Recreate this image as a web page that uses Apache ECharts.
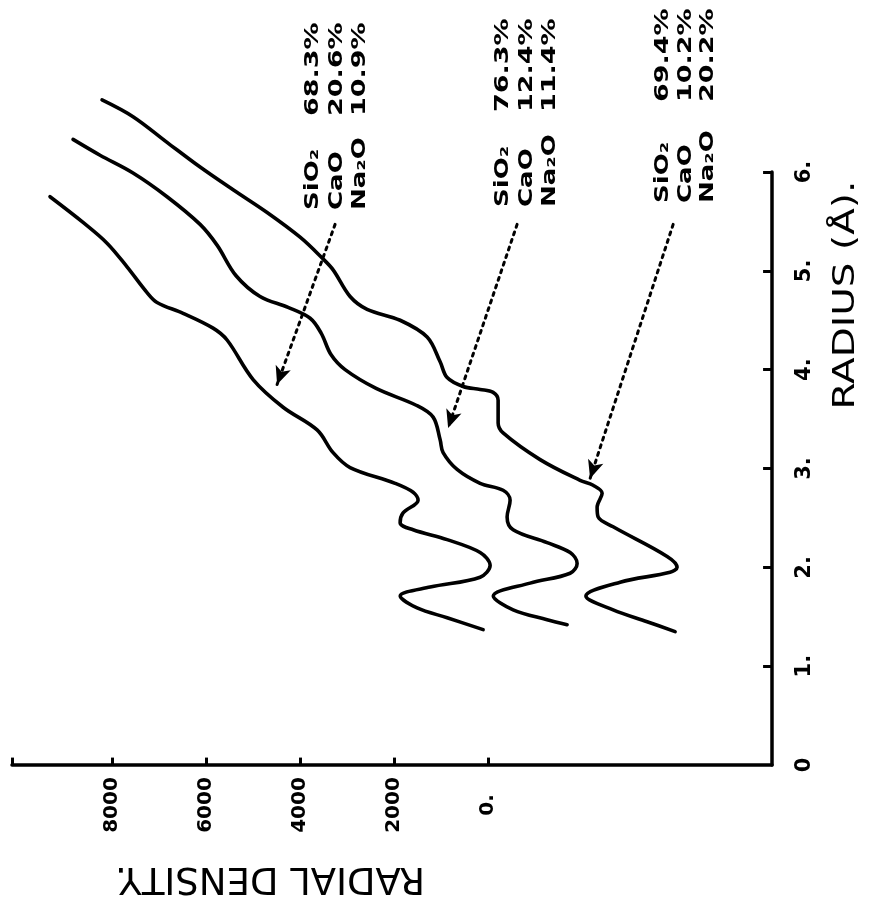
<!DOCTYPE html>
<html>
<head>
<meta charset="utf-8">
<script src="https://cdn.jsdelivr.net/npm/echarts@6/dist/echarts.min.js"></script>
<style>
html,body{margin:0;padding:0;background:#ffffff;}
#chart{width:875px;height:905px;}
</style>
</head>
<body>
<div id="chart"></div>
<script>
// ---- Data (radius in Å, radial density) ----
// Curve 1: SiO2 68.3%, CaO 20.6%, Na2O 10.9%
const radius1  = [1.37,1.49,1.59,1.71,1.80,1.90,2.02,2.15,2.28,2.38,2.45,2.55,2.68,2.76,2.85,3.01,3.16,3.39,3.62,3.90,4.30,4.42,4.57,4.68,4.78,5.04,5.28,5.49,5.75];
const density1 = [106,872,1511,1870,1234,170,-43,170,872,1596,1872,1809,1490,1596,1979,2937,3298,3639,4362,5000,5554,5852,6490,7044,7257,7682,8108,8618,9321];
// Curve 2: SiO2 76.3%, CaO 12.4%, Na2O 11.4%
const radius2  = [1.42,1.47,1.57,1.71,1.84,1.94,2.04,2.15,2.25,2.38,2.51,2.68,2.78,2.85,2.99,3.16,3.29,3.52,3.64,3.81,4.00,4.15,4.37,4.52,4.63,4.74,4.95,5.26,5.47,5.75,5.99,6.17,6.33];
const density2 = [-1681,-1255,-532,-110,-894,-1745,-1894,-1745,-1255,-532,-404,-468,-319,170,660,957,1021,1170,1530,2383,3043,3340,3553,3787,4256,4852,5362,5767,6128,6831,7555,8257,8831];
// Curve 3: SiO2 69.4%, CaO 10.2%, Na2O 20.2%
const radius3  = [1.35,1.45,1.57,1.71,1.85,1.95,2.00,2.11,2.41,2.51,2.61,2.75,2.83,2.88,3.09,3.36,3.46,3.69,3.77,3.80,3.83,3.92,4.08,4.33,4.50,4.61,4.74,5.01,5.13,5.34,5.59,5.82,6.05,6.30,6.56,6.73];
const density3 = [-3979,-3383,-2660,-2080,-2809,-3872,-4021,-3809,-2660,-2340,-2319,-2426,-2234,-1957,-1106,-319,-213,-213,-106,170,532,872,1021,1298,1872,2575,2937,3298,3532,4000,4702,5426,6128,6831,7555,8214];

// Axis ticks
const densityTicks = [0, 2000, 4000, 6000, 8000];
const radiusTicks  = [1, 2, 3, 4, 5, 6];
const densityMin = -6040, densityMax = 10130;
const radiusMin = 0, radiusMax = 6;

// Annotation texts
const oxides = ['SiO₂', 'CaO', 'Na₂O'];
const comp1  = ['68.3%', '20.6%', '10.9%'];
const comp2  = ['76.3%', '12.4%', '11.4%'];
const comp3  = ['69.4%', '10.2%', '20.2%'];

// Arrow start/end points [density, radius]
const arrowStart = [[3256, 5.47], [-617, 5.47], [-3937, 5.47]];
const arrowEnd   = [[4490, 3.85], [851, 3.41], [-2170, 2.90]];

function pairs(r, d) { return r.map((v, i) => [d[i], v]); }

const chart = echarts.init(document.getElementById('chart'), null, {renderer: 'canvas'});

const lineStyle = {color: '#000', width: 3.6, cap: 'round', join: 'round'};
function curve(name, r, d) {
  return {
    name: name, type: 'line', data: pairs(r, d), smooth: 0.35,
    showSymbol: false, symbol: 'none', clip: false, silent: true,
    lineStyle: lineStyle
  };
}

const arrows = arrowStart.map((s, i) => [{coord: s}, {coord: arrowEnd[i]}]);
// inward tick marks (drawn in data space): ~7px on the density axis, ~9px on the radius axis
const densityTickLen = 0.075;   // in radius units
const radiusTickLen = 190;      // in density units
const tickMarks = densityTicks.concat([densityMax]).map(v => [{coord: [v, radiusMin]}, {coord: [v, radiusMin + densityTickLen]}])
  .concat(radiusTicks.map(r => [{coord: [densityMin, r]}, {coord: [densityMin + radiusTickLen, r]}]));

// annotation layout (pixels)
const blockLineX = [[313, 337, 360], [503, 527, 550], [663, 686, 708]];
const nameBottom = [210, 207, 203];
const valueBottom = [116, 112, 102];
const comps = [comp1, comp2, comp3];
const annotFont = 'bold 20px "DejaVu Sans"';
const graphics = [];
comps.forEach((comp, b) => {
  oxides.forEach((ox, j) => {
    graphics.push({
      type: 'text', x: blockLineX[b][j], y: nameBottom[b], rotation: Math.PI / 2,
      scaleX: 1.3, silent: true,
      style: {text: ox, font: annotFont, fill: '#000', align: 'left', verticalAlign: 'middle'}
    });
    graphics.push({
      type: 'text', x: blockLineX[b][j], y: valueBottom[b], rotation: Math.PI / 2,
      scaleX: 1.35, silent: true,
      style: {text: comp[j], font: annotFont, fill: '#000', align: 'left', verticalAlign: 'middle'}
    });
  });
});
graphics.push({
  type: 'text', x: 846, y: 295, rotation: Math.PI / 2, scaleX: 1.3, silent: true,
  style: {text: 'RADIUS (Å).', font: '30px "DejaVu Sans"', fill: '#000', align: 'center', verticalAlign: 'middle'}
});
graphics.push({
  type: 'text', x: 270, y: 878, rotation: Math.PI, scaleX: 1.0, silent: true,
  style: {text: 'RADIAL DENSITY.', font: '37px "DejaVu Sans"', fill: '#000', align: 'center', verticalAlign: 'middle'}
});

const option = {
  backgroundColor: '#ffffff',
  animation: false,
  grid: {left: 12, right: 103, top: 172, bottom: 140, containLabel: false},
  xAxis: {
    type: 'value', inverse: true, min: densityMin, max: densityMax, position: 'bottom',
    splitLine: {show: false},
    axisLine: {show: true, onZero: false, lineStyle: {color: '#000', width: 3.5}},
    axisTick: {show: false},
    axisLabel: {
      show: true, customValues: densityTicks, rotate: 90, margin: 40,
      align: 'center', verticalAlign: 'middle',
      color: '#000', fontFamily: 'DejaVu Sans', fontWeight: 'bold', fontSize: 20,
      formatter: v => (v === 0 ? '0.' : String(v))
    }
  },
  yAxis: {
    type: 'value', min: radiusMin, max: radiusMax, interval: 1, position: 'right',
    splitLine: {show: false},
    axisLine: {show: true, onZero: false, lineStyle: {color: '#000', width: 3.5}},
    axisTick: {show: false},
    axisLabel: {
      show: true, rotate: 90, margin: 33,
      align: 'center', verticalAlign: 'middle',
      color: '#000', fontFamily: 'DejaVu Sans', fontWeight: 'bold', fontSize: 21,
      formatter: v => (v === 0 ? '0' : v + '.')
    }
  },
  series: [
    curve('68.3% SiO2', radius1, density1),
    curve('76.3% SiO2', radius2, density2),
    curve('69.4% SiO2', radius3, density3),
    {
      type: 'line', data: [], silent: true, clip: false,
      markLine: {
        silent: true, symbol: ['none', 'arrow'], symbolSize: [12, 18],
        label: {show: false},
        lineStyle: {color: '#000', width: 3, type: [3, 5], cap: 'round'},
        data: arrows
      }
    },
    {
      type: 'line', data: [], silent: true, clip: false,
      markLine: {
        silent: true, symbol: ['none', 'none'],
        label: {show: false},
        lineStyle: {color: '#000', width: 3, type: 'solid'},
        data: tickMarks
      }
    }
  ],
  graphic: graphics
};
chart.setOption(option);
</script>
</body>
</html>
